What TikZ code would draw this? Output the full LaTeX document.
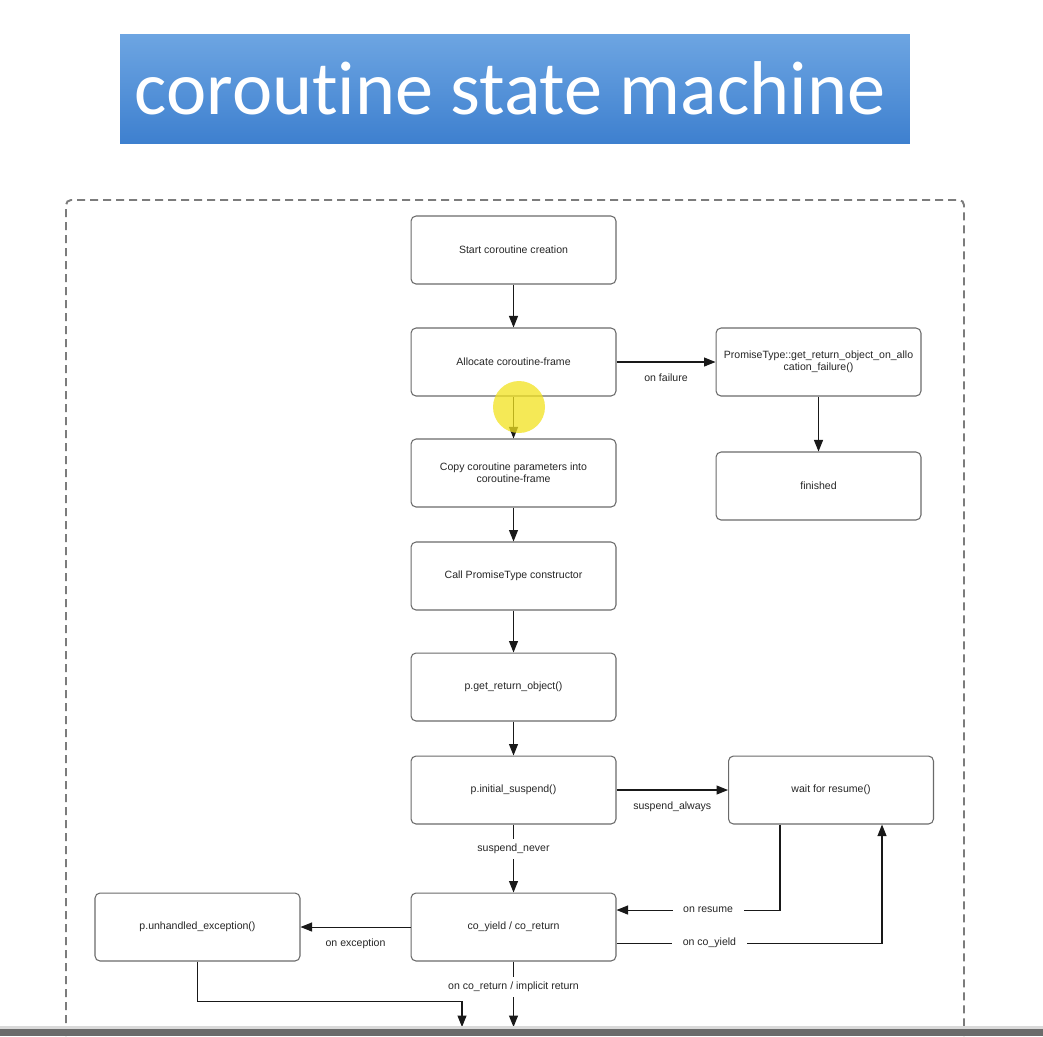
\documentclass[tikz,border=0pt]{standalone}
\usepackage{fontspec}
\setmainfont{Liberation Sans}
\newfontfamily\titlefont[Ligatures={NoCommon}]{Carlito}
\usetikzlibrary{arrows.meta,calc}
\tikzset{>={Triangle[length=2.3mm,width=1.8mm]}}
\definecolor{boxgray}{HTML}{6A6A6A}
\definecolor{framegray}{HTML}{7C7C7C}
\definecolor{bannertop}{HTML}{6DA5E2}
\definecolor{bannerbot}{HTML}{3E80CF}
\definecolor{hilite}{HTML}{F2E21E}
\newcommand\diagfont{\fontsize{6}{6.9}\selectfont}
\tikzset{
  state/.style={draw=boxgray, rounded corners=1mm, line width=0.6pt,
    minimum width=4.1cm, minimum height=1.36cm, align=center,
    font=\diagfont, text=black!85},
  lbl/.style={font=\diagfont, text=black!85, inner sep=1pt},
  onlink/.style={lbl, fill=white, inner xsep=6pt, inner ysep=3pt},
  link/.style={->, line width=0.6pt, black!90},
}

\begin{document}
\begin{tikzpicture}[x=0.02cm, y=-0.02cm]
  \useasboundingbox (0,0) rectangle (1043,1036);
  \fill[white] (0,0) rectangle (1043,1036);

  % title banner
  \node[top color=bannertop, bottom color=bannerbot, minimum width=15.8cm,
        minimum height=2.18cm, inner sep=0pt, text=white,
        font=\titlefont\fontsize{43.4}{50}\selectfont] (title) at (515,88.5)
        {\hspace*{-0.2cm}coroutine state machine};

  % dashed frame
  \draw[framegray, line width=1.1pt, dash pattern=on 0.16cm off 0.1cm,
        rounded corners=0.1cm] (66,1036) -- (66,200) -- (964,200) -- (964,1036);

  % states
  \node[state] (start)  at (513.5,250) {Start coroutine creation};
  \node[state] (alloc)  at (513.5,362) {Allocate coroutine-frame};
  \node[state] (fail)   at (818.5,362) {PromiseType::get\_return\_object\_on\_allo\\cation\_failure()};
  \node[state] (fin)    at (818.5,486) {finished};
  \node[state] (copy)   at (513.5,473) {Copy coroutine parameters into\\coroutine-frame};
  \node[state] (ctor)   at (513.5,576) {Call PromiseType constructor};
  \node[state] (getret) at (513.5,687) {p.get\_return\_object()};
  \node[state] (init)   at (513.5,790) {p.initial\_suspend()};
  \node[state] (wait)   at (831,790)   {wait for resume()};
  \node[state] (coy)    at (513.5,927) {co\_yield / co\_return};
  \node[state] (unh)    at (197.5,927) {p.unhandled\_exception()};

  \coordinate (r1) at (780,910);
  \coordinate (r2) at (882,943);
  \coordinate (exitL) at (462,1027);
  \coordinate (exitR) at (513.5,1027);

  % main chain
  \foreach \a/\b in {start/alloc, alloc/copy, copy/ctor, ctor/getret, getret/init}
    \draw[link] (\a) -- (\b);

  \draw[link] (alloc) -- node[lbl, below=0.2cm] {on failure} (fail);
  \draw[link] (fail) -- (fin);
  \draw[link] (init) -- node[lbl, below=0.2cm] {suspend\_always} (wait);
  \draw[link] (init) -- node[onlink, pos=0.36] {suspend\_never} (coy);
  \draw[link] (wait.south -| r1) |- node[onlink, pos=0.72] {on resume} (coy.east |- r1);
  \draw[link] (coy.east |- r2) -| node[onlink, pos=0.175] {on co\_yield} (wait.south -| r2);
  \draw[link] (coy) -- node[lbl, below=0.2cm] {on exception} (unh);
  \draw[link] (unh.south) |- (462,1001) -- (exitL);
  \draw[link] (coy.south) -- node[onlink, pos=0.39] {on co\_return / implicit return} (exitR);

  % pointer highlight
  \fill[hilite, opacity=0.75] (519,407) circle (0.52cm);

  % screen bar
  \fill[black!15] (0,1026) rectangle (1043,1029);
  \fill[black!58] (0,1029) rectangle (1043,1036);
\end{tikzpicture}
\end{document}
